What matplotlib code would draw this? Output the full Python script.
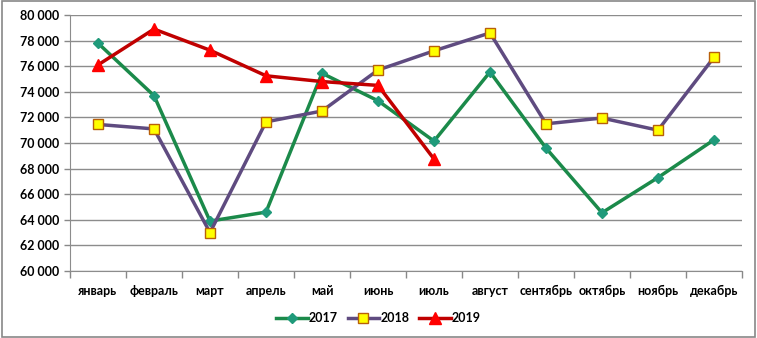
import matplotlib
matplotlib.use("Agg")
import matplotlib.pyplot as plt
from matplotlib.ticker import FuncFormatter, FixedLocator
import numpy as np

months = ["январь", "февраль", "март", "апрель", "май", "июнь", "июль",
          "август", "сентябрь", "октябрь", "ноябрь", "декабрь"]
v2017 = [77800, 73700, 63900, 64600, 75450, 73300, 70150, 75550, 69600, 64550, 67300, 70250]
v2018 = [71450, 71100, 63000, 71650, 72500, 75700, 77200, 78600, 71500, 71950, 71000, 76700]
v2019 = [76100, 78900, 77250, 75250, 74800, 74500, 68750]

plt.rcParams['font.family'] = ['Lato', 'DejaVu Sans']
plt.rcParams['font.weight'] = 'bold'

fig = plt.figure(figsize=(7.57, 3.38), dpi=100)
fig.patch.set_facecolor("white")
ax = fig.add_axes([70/757, 1-271/338, 672/757, 256/338])

x = np.arange(len(months))
ax.plot(x, v2017, color="#1B8A4A", lw=2.5, marker="D", ms=5,
        mfc="#1F9A7A", mec="#1F9A7A", label="2017", zorder=3)
ax.plot(x, v2018, color="#5F4B80", lw=2.5, marker="s", ms=7,
        mfc="#FFFF00", mec="#B8600A", mew=1, label="2018", zorder=3)
ax.plot(x[:len(v2019)], v2019, color="#C00000", lw=2.5, marker="^", ms=8,
        mfc="#FF0000", mec="#FF0000", label="2019", zorder=4)

ax.set_xlim(-0.5, len(months) - 0.5)
ax.set_ylim(60000, 80000)
ax.set_yticks(np.arange(60000, 80001, 2000))
ax.yaxis.set_major_formatter(FuncFormatter(lambda v, p: f"{int(v):,}".replace(",", " ")))
ax.set_xticks(x)
ax.set_xticklabels(months)
ax.xaxis.set_minor_locator(FixedLocator(np.arange(-0.5, len(months), 1)))
ax.tick_params(axis="x", which="major", length=0, pad=10, labelsize=9)
ax.tick_params(axis="x", which="minor", length=5, color="#888888", width=1)
ax.tick_params(axis="y", length=4, color="#888888", width=1, pad=4, labelsize=9)
ax.grid(axis="y", color="#8C8C8C", lw=1)
ax.set_axisbelow(True)
for s in ["top", "right"]:
    ax.spines[s].set_visible(False)
ax.spines["left"].set_color("#8C8C8C")
ax.spines["bottom"].set_color("#8C8C8C")

leg = fig.legend(loc="center", bbox_to_anchor=(0.5, 1-318/338), ncol=3, frameon=False,
                 fontsize=9, handlelength=2.5, columnspacing=0.8, handletextpad=0.1)

fig.add_artist(plt.Rectangle((0.002, 0.003), 0.995, 0.993, transform=fig.transFigure,
                             fill=False, ec="#888888", lw=1.2))

fig.savefig("out.png", dpi=100)
